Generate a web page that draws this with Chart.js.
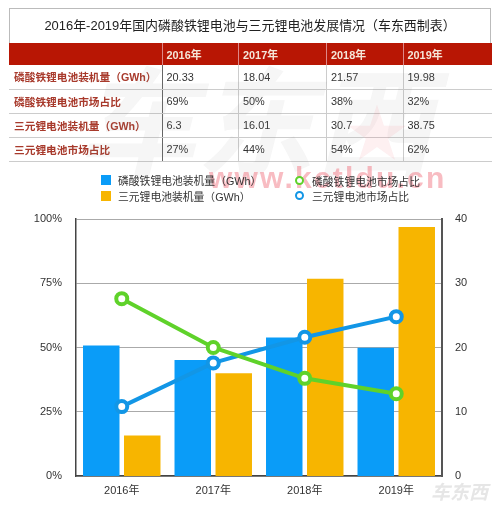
<!DOCTYPE html>
<html><head><meta charset="utf-8">
<script src="https://cdn.jsdelivr.net/npm/chart.js@4/dist/chart.umd.min.js"></script>
<style>
html,body{margin:0;padding:0;background:#fff;width:500px;height:507px;overflow:hidden;font-family:"Liberation Sans","Noto Sans CJK SC",sans-serif;}
#c{position:absolute;left:0;top:0;}
.abs{position:absolute;white-space:nowrap;}
#title{left:9px;top:8px;width:482px;height:35px;box-sizing:border-box;border:1px solid #bbb;border-bottom:none;text-align:center;font-size:12.95px;line-height:33px;color:#222;}
table{position:absolute;left:9px;top:43px;width:483px;border-collapse:collapse;table-layout:fixed;font-size:10.9px;}
td{padding:0 0 0 4px;height:24px;border-bottom:1px solid #ccc;color:#333;box-sizing:border-box;white-space:nowrap;}
tr.h td{background:#b81604;color:#f5e6d8;font-weight:bold;height:22px;border-bottom:none;}
td.n{color:#a83a2c;font-weight:bold;padding-left:5px;font-size:10.7px;}
td.f{border-right:1px solid #666;}
tr.h td.f{border-right:1px solid #d88;}
td.o{border-right:1px solid #ccc;}
tr.h td.o{border-right:1px solid #d88;}
.lg{font-size:10.8px;color:#333;}
.sw{position:absolute;width:10px;height:10px;}
.ring{position:absolute;width:5px;height:5px;border-radius:50%;border:2.5px solid;background:#fff;}
#wm{left:209px;top:161px;font-size:30px;font-weight:bold;letter-spacing:2.2px;color:#f06a78;opacity:.45;}
#wm2{left:78px;top:30px;font-size:118px;color:#888;opacity:.08;font-weight:bold;font-style:italic;}
#wm4{left:346px;top:84px;font-size:62px;color:#f06a78;opacity:.1;}
#wm3{left:431px;top:477px;font-size:19px;color:#e6e6e6;font-weight:bold;font-style:italic;}
</style></head><body>
<canvas id="c" width="500" height="507"></canvas>
<div id="title" class="abs"></div>
<table id="t"></table>
<div id="wm2" class="abs">车东西</div>
<div id="wm4" class="abs">★</div>
<div id="wm" class="abs">www.kctldu.cn</div>
<div id="legend"></div>
<div id="wm3" class="abs">车东西</div>
<script>
const titleText = "2016年-2019年国内磷酸铁锂电池与三元锂电池发展情况（车东西制表）";
const categories = ["2016年","2017年","2018年","2019年"];
const lfpName = "磷酸铁锂电池装机量（GWh）";
const nmcName = "三元锂电池装机量（GWh）";
const lfpShareName = "磷酸铁锂电池市场占比";
const nmcShareName = "三元锂电池市场占比";
const lfpInstalled = [20.33,18.04,21.57,19.98];
const nmcInstalled = [6.3,16.01,30.7,38.75];
const lfpShare = [69,50,38,32];
const nmcShare = [27,44,54,62];
const leftTicks = [0,25,50,75,100];
const rightTicks = [0,10,20,30,40];
const BLUE="#0a9cf8", YELLOW="#f7b500", GREEN="#5fd22a", LBLUE="#1296e6";

document.getElementById('title').textContent = titleText;
const rows = [
 [lfpName,"20.33","18.04","21.57","19.98"],
 [lfpShareName,"69%","50%","38%","32%"],
 [nmcName,"6.3","16.01","30.7","38.75"],
 [nmcShareName,"27%","44%","54%","62%"]
];
const widths=[153,76.5,88,76.5,89];
let html='<colgroup>'+widths.map(w=>`<col style="width:${w}px">`).join('')+'</colgroup>';
html+='<tr class="h"><td class="f"></td>'+categories.map((c,i)=>`<td class="${i<3?'o':''}">${c}</td>`).join('')+'</tr>';
rows.forEach(r=>{html+='<tr>'+r.map((v,i)=>`<td class="${i==0?'n f':(i<4?'o':'')}">${v}</td>`).join('')+'</tr>';});
document.getElementById('t').innerHTML=html;

const lg=[[100,180,lfpName,BLUE,0],[100,196,nmcName,YELLOW,0],[295,181,lfpShareName,GREEN,1],[295,196,nmcShareName,LBLUE,1]];
document.getElementById('legend').innerHTML=lg.map(([x,y,t,col,r])=>
 (r?`<div class="ring" style="left:${x}px;top:${y-5}px;border-color:${col}"></div>`:`<div class="sw" style="left:${x+1}px;top:${y-5}px;background:${col}"></div>`)+
 `<div class="abs lg" style="left:${x+(r?17:18)}px;top:${y-8}px">${t}</div>`).join('');

const font={family:'"Liberation Sans","Noto Sans CJK SC",sans-serif',size:11};
new Chart(document.getElementById('c'),{
 type:'bar',
 data:{labels:categories,datasets:[
  {type:'line',label:lfpShareName,data:lfpShare,yAxisID:'y',borderColor:GREEN,borderWidth:4,pointBackgroundColor:'#fff',pointBorderColor:GREEN,pointRadius:5.5,pointBorderWidth:4,order:1},
  {type:'line',label:nmcShareName,data:nmcShare,yAxisID:'y',borderColor:LBLUE,borderWidth:4,pointBackgroundColor:'#fff',pointBorderColor:LBLUE,pointRadius:5.5,pointBorderWidth:4,order:2},
  {label:lfpName,data:lfpInstalled,yAxisID:'y1',backgroundColor:BLUE,order:3},
  {label:nmcName,data:nmcInstalled,yAxisID:'y1',backgroundColor:YELLOW,order:4}
 ]},
 options:{
  responsive:false,animation:false,
  categoryPercentage:0.896,barPercentage:0.89,
  layout:{padding:{top:219,bottom:0,left:0,right:0}},
  plugins:{legend:{display:false},title:{display:false},tooltip:{enabled:false}},
  scales:{
   x:{grid:{display:false},border:{color:'#444',width:1.5},ticks:{color:'#333',font,padding:0,maxRotation:0},afterFit(a){a.height=31;}},
   y:{position:'left',min:0,max:100,afterBuildTicks(a){a.ticks=leftTicks.map(v=>({value:v}));},
      ticks:{color:'#333',font,padding:14,callback:v=>v+'%'},
      grid:{color:'#aaa',lineWidth:1,drawTicks:false},border:{color:'#444',width:1.5},afterFit(a){a.width=76;}},
   y1:{position:'right',min:0,max:40,afterBuildTicks(a){a.ticks=rightTicks.map(v=>({value:v}));},
      ticks:{color:'#333',font,padding:13},
      grid:{display:false,drawTicks:false},border:{color:'#555',width:2},afterFit(a){a.width=58;}}
  }
 }
});
</script>
</body></html>
